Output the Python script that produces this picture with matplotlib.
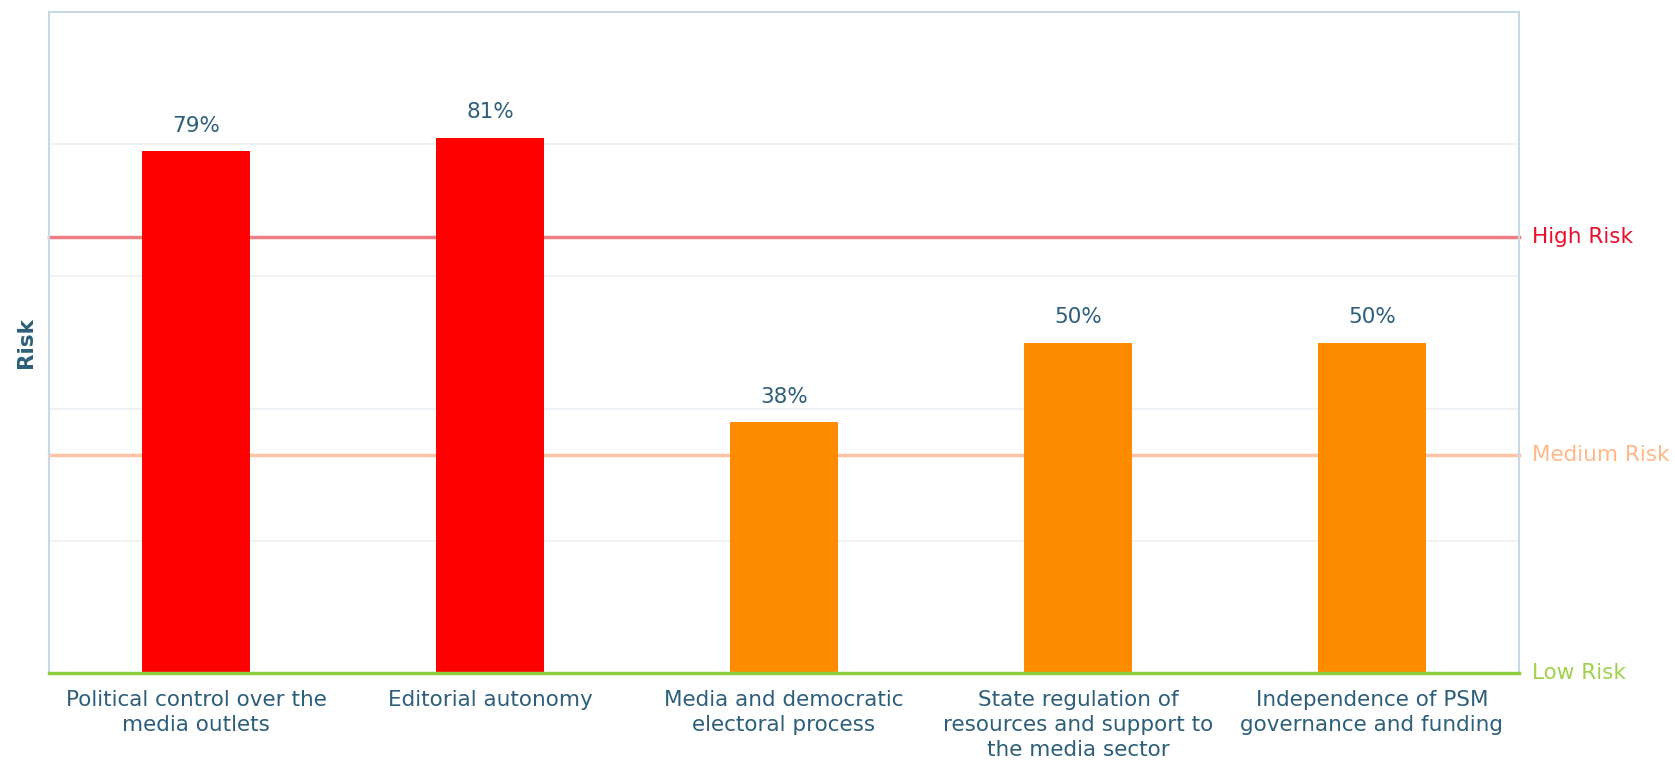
import matplotlib
matplotlib.use("Agg")
import matplotlib.pyplot as plt

# data
categories = [
    "Political control over the\nmedia outlets",
    "Editorial autonomy",
    "Media and democratic\nelectoral process",
    "State regulation of\nresources and support to\nthe media sector",
    "Independence of PSM\ngovernance and funding",
]
risk_values = [79, 81, 38, 50, 50]
bar_colors = ["#ff0000", "#ff0000", "#ff8c00", "#ff8c00", "#ff8c00"]

thresholds = [0, 33, 66]
threshold_names = ["Low Risk", "Medium Risk", "High Risk"]
threshold_line_colors = ["#8fce3c", "#ffc4a4", "#f07c84"]
threshold_text_colors = ["#9fd24a", "#ffb88a", "#e8102c"]

text_color = "#2d5f7a"
frame_color = "#c9d9e3"

fig = plt.figure(figsize=(16.75, 7.6), dpi=100)
ax = fig.add_axes([49 / 1675, 1 - 673 / 760, 1470 / 1675, 661 / 760])

x = list(range(len(categories)))
ax.bar(x, risk_values, width=0.37, color=bar_colors, zorder=3)

for xi, v in zip(x, risk_values):
    ax.text(xi, v + 2.3, "%d%%" % v, ha="center", va="bottom",
            fontsize=15.5, color=text_color, zorder=4)

for t, name, lc, tc in zip(thresholds, threshold_names,
                           threshold_line_colors, threshold_text_colors):
    ax.axhline(t, color=lc, lw=2.5, zorder=2 if t > 0 else 5, clip_on=False)
    ax.text(1.009, t, name, transform=ax.get_yaxis_transform(),
            ha="left", va="center", fontsize=15.5, color=tc)

ax.set_xlim(-0.5, len(categories) - 0.5)
ax.set_ylim(0, 100)
ax.set_yticks([20, 40, 60, 80])
ax.set_yticklabels([])
ax.tick_params(axis="y", length=0)
ax.tick_params(axis="x", length=0, pad=12)
ax.grid(axis="y", color="#e9f0f4", lw=1.2, zorder=1)

ax.set_xticks(x)
ax.set_xticklabels(categories, fontsize=15.5, color=text_color, linespacing=1.32)

for side in ["top", "left", "right"]:
    ax.spines[side].set_color(frame_color)
    ax.spines[side].set_linewidth(1.5)
ax.spines["bottom"].set_visible(False)

ax.set_ylabel("Risk", fontsize=15.5, fontweight="bold", color=text_color, labelpad=6)

fig.savefig("out.png", dpi=100)
